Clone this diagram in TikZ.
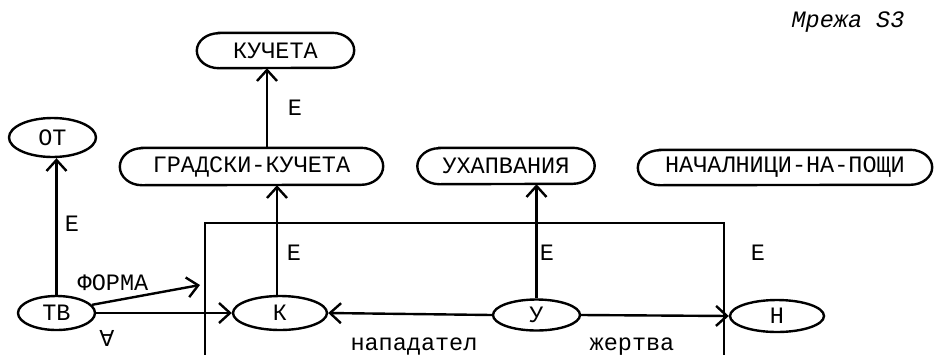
\documentclass[tikz,border=0pt]{standalone}
\usepackage{fontspec}
\setmainfont{Liberation Mono}
\newfontfamily\symfont{DejaVu Sans}
\usetikzlibrary{shapes.geometric,arrows.meta}
\begin{document}
\begin{tikzpicture}[x=1pt,y=-1pt,
  every node/.style={font=\fontsize{23.5}{28}\selectfont},
  concept/.style={rectangle, inner sep=0pt},
  token/.style={draw, line width=2.4pt, ellipse, inner sep=0pt},
  link/.style={line width=2.4pt, -{Straight Barb[length=11pt,width=20pt,line width=2.4pt]}},
  pill/.style={line width=2.4pt},
  lbl/.style={inner sep=0pt}]
\useasboundingbox (0,0) rectangle (934,354);

% generic concepts
\node[concept, minimum width=157pt, minimum height=35pt] (KU) at (275.5,50.5) {КУЧЕТА};
\node[concept, minimum width=263pt, minimum height=37pt] (GK) at (251.5,166.5) {ГРАДСКИ-КУЧЕТА};
\node[concept, minimum width=177pt, minimum height=36pt] (UX) at (506,166) {УХАПВАНИЯ};
\node[concept, minimum width=294pt, minimum height=35pt] (NP) at (785,167.5) {НАЧАЛНИЦИ-НА-ПОЩИ};

% pill outlines of the concepts, with half-elliptic ends
\foreach \n/\h in {KU/17.5, GK/18.5, UX/18, NP/17.5}{
  \draw[pill]
    ([xshift=22pt]\n.north west) -- ([xshift=-22pt]\n.north east)
    arc[start angle=90, end angle=-90, x radius=22pt, y radius=\h pt]
    -- ([xshift=22pt]\n.south west)
    arc[start angle=270, end angle=90, x radius=22pt, y radius=\h pt]
    -- cycle;
}

% individual nodes
\node[token, minimum width=87pt, minimum height=39pt] (OT) at (52.5,137.5) {ОТ};
\node[token, minimum width=77pt, minimum height=34pt] (TV) at (56.5,313) {ТВ};
\node[token, minimum width=94pt, minimum height=34pt] (K) at (280,313) {К};
\node[token, minimum width=87pt, minimum height=31pt] (U) at (536.5,315) {У};
\node[token, minimum width=94pt, minimum height=32pt] (N) at (777,316) {Н};

% partition box (open at the bottom)
\draw[line width=2.4pt] (205,370) -- (205,223) -- (724,223) -- (724,370);

% helper coordinates
\coordinate (xa) at (267,0);
\coordinate (xb) at (277,0);
\coordinate (fa) at (200,285);

% connectors
\draw[link] (xa |- GK.north) -- (xa |- KU.south);
\draw[link] (xb |- K.north) -- (xb |- GK.south);
\draw[link] (TV.north) -- (TV.north |- OT.south);
\draw[link] (TV.east) -- (K.west);
\draw[link] (TV.13) -- (fa);
\draw[link] (U.west) -- (K.east);
\draw[link] (U.east) -- (N.west);
\draw[link] (U.north) -- (U.north |- UX.south);

% labels
\node[lbl] (e1) at (295,108) {Е};
\node[lbl] (e2) at (294,253) {Е};
\node[lbl] (e3) at (72,224) {Е};
\node[lbl] (e4) at (547,253) {Е};
\node[lbl] (e5) at (758,253) {Е};
\node[lbl] (forma) at (113,283) {ФОРМА};
\node[lbl, font=\fontsize{22}{26}\selectfont\symfont] (all) at (107,338) {∀};
\node[lbl, anchor=base] (nap) at (414,350) {нападател};
\node[lbl, anchor=base] (zh) at (632,350) {жертва};
\node[lbl, font=\fontsize{23.5}{28}\selectfont\itshape] (title) at (848,22) {Мрежа S3};
\end{tikzpicture}
\end{document}
